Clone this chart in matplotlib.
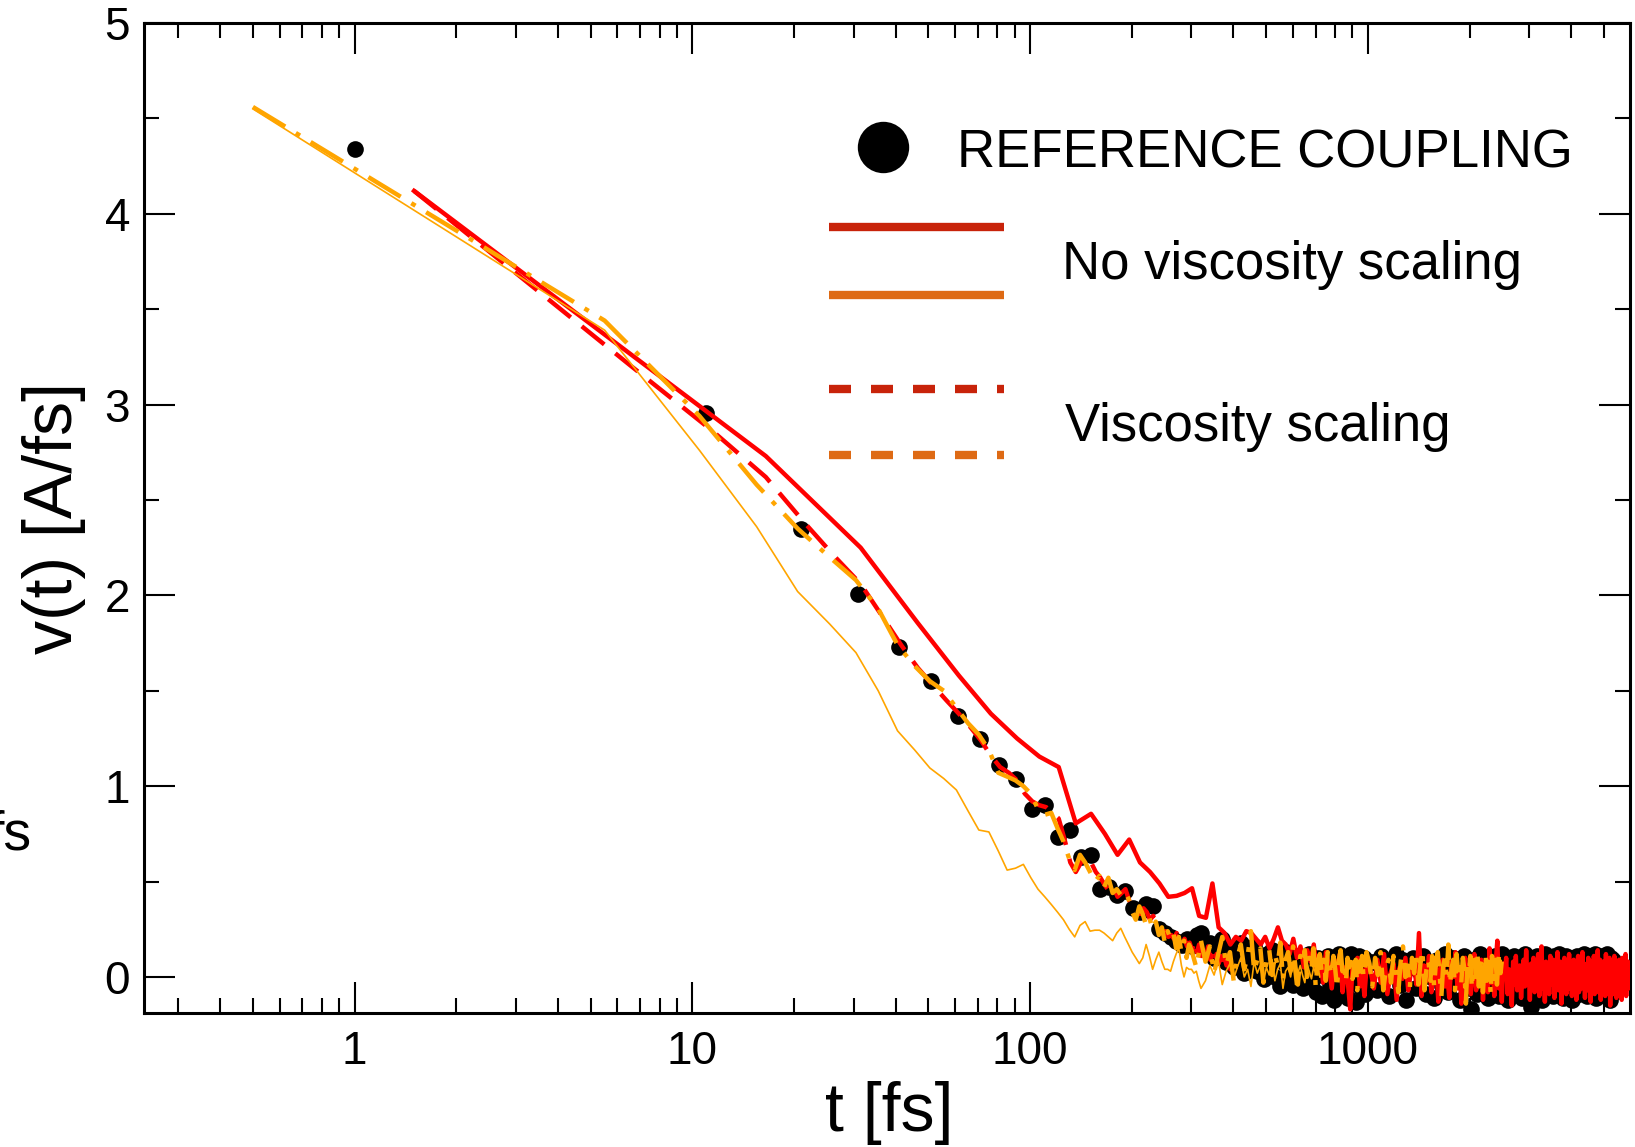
import numpy as np
import matplotlib
matplotlib.use("Agg")
import matplotlib.pyplot as plt
from matplotlib.lines import Line2D
from matplotlib.ticker import FixedLocator, FixedFormatter, LogLocator, NullFormatter, MultipleLocator

plt.rcParams['font.family'] = ['Liberation Sans', 'DejaVu Sans']

# ---------------------------------------------------------------- data
# Reference coupling: every 10 fs from t = 1 fs, then every 30 fs past 1 ps
ref_v_a = [
    4.34, 2.956, 2.35, 2.005, 1.73, 1.55, 1.37, 1.245, 1.11, 1.04, 0.88,
    0.90, 0.735, 0.77, 0.63, 0.64, 0.46, 0.47, 0.43, 0.45, 0.36,
    0.34, 0.38, 0.37, 0.25, 0.23, 0.21, 0.19, 0.17, 0.20, 0.16,
    0.22, 0.23, 0.17, 0.18, 0.10,
    0.12, 0.20, 0.08, 0.15, 0.05, 0.13, 0.18, 0.02, 0.11, 0.07,
    0.16, 0.03, 0.10, -0.01, 0.12, 0.06, 0.14, 0.00, 0.09, -0.05,
    0.08, 0.13, 0.02, 0.10, -0.04, 0.07, 0.11, 0.01, -0.06, 0.09,
    0.04, 0.12, -0.02, 0.06, -0.08, 0.10, 0.03, -0.10, 0.07, 0.00,
    0.11, -0.05, 0.04, -0.12, 0.08, 0.02, 0.12, -0.07, 0.05, -0.01,
    0.10, -0.11, 0.06, 0.12, -0.03, 0.09, -0.13, 0.04, 0.11, -0.06,
    0.02, 0.10, -0.09, 0.07, -0.02,
]
ref_v_b = [
    0.08, -0.07, 0.11, 0.02, -0.10, 0.06, 0.12, -0.04, 0.09, -0.12,
    0.05, 0.10, -0.06, 0.03, 0.11, -0.09, 0.07, 0.00, -0.11, 0.09,
    0.04, -0.05, 0.12, -0.08, 0.06, 0.10, -0.02, 0.08, -0.12, 0.05,
    0.11, -0.06, 0.03, -0.17, 0.09, 0.02, -0.09, 0.12, 0.06, -0.04,
    0.10, -0.11, 0.04, 0.08, -0.07, 0.11, 0.01, -0.10, 0.07, 0.12,
    -0.03, 0.06, -0.12, 0.09, 0.04, -0.08, 0.11, 0.02, -0.05, 0.10,
    0.07, -0.11, 0.05, 0.12, -0.06, 0.08, 0.00, -0.16, 0.10, 0.04,
    -0.09, 0.11, 0.06, -0.04, 0.09, -0.12, 0.03, 0.12, -0.07, 0.07,
    0.10, -0.02, 0.05, -0.10, 0.11, 0.08, -0.06, 0.04, 0.12, -0.09,
    0.06, 0.01, -0.11, 0.09, 0.11, -0.05, 0.07, -0.08, 0.10, 0.03,
    -0.12, 0.08, 0.05, -0.04, 0.11, 0.02, -0.09, 0.10, 0.06, -0.07,
    0.09, 0.12, -0.03, 0.04, -0.10, 0.08, 0.11, -0.06, 0.02, 0.10,
    -0.08, 0.07, 0.12, -0.11, 0.05, 0.09, -0.02, 0.08, -0.09, 0.11,
    0.04, -0.06, 0.10, 0.07, -0.10, 0.03, 0.12, -0.05, 0.08, -0.12,
    0.06, 0.10, -0.03, 0.09, -0.08, 0.05,
]

# Red, no viscosity scaling: every 15 fs from 1.5 fs, every 25 fs past 1 ps
red_solid_v_a = [
    4.12, 2.73, 2.25, 1.855, 1.58, 1.38, 1.25, 1.155, 1.10, 0.805,
    0.855, 0.75, 0.64, 0.72, 0.60, 0.55, 0.49, 0.42, 0.425, 0.44,
    0.465, 0.32, 0.31, 0.49, 0.26, 0.23,
    0.17, 0.21, 0.19, 0.24, 0.23, 0.20, 0.17, 0.21, 0.15, 0.20,
    0.26, 0.19, 0.17, 0.12, 0.20, 0.10, 0.16, 0.05, 0.14, 0.08,
    0.17, 0.02, 0.11, -0.03, 0.13, 0.06, -0.06, 0.09, 0.00, 0.12,
    -0.08, 0.05, -0.02, -0.17, 0.07, 0.01, 0.10, -0.05, 0.04, -0.10,
    0.06,
]
red_solid_v_b = [
    0.04, -0.06, 0.09, -0.03, 0.12, -0.09, 0.02, 0.07, -0.12, 0.05,
    -0.01, 0.10, -0.07, 0.03, 0.08, -0.04, 0.23, -0.10, 0.06, -0.02,
    0.11, -0.08, 0.01, 0.07, -0.13, 0.04, 0.09, -0.05, 0.02, -0.11,
    0.08, 0.00, 0.13, -0.06, 0.05, -0.14, 0.03, 0.10, -0.04, 0.06,
    -0.09, 0.02, 0.12, -0.07, 0.04, -0.02, 0.09, -0.12, 0.06, 0.01,
    -0.08, 0.15, -0.03, 0.05, -0.10, 0.08, 0.19, -0.06, 0.03, -0.13,
    0.07, -0.01, 0.10, -0.09, 0.04, 0.02, -0.15, 0.08, -0.04, 0.11,
    -0.07, 0.03, 0.06, -0.11, 0.01, 0.09, -0.05, 0.14, -0.02, 0.05,
    -0.12, 0.07, 0.00, 0.10, -0.08, 0.04, -0.03, 0.12, -0.10, 0.06,
    0.16, -0.06, 0.02, -0.13, 0.08, -0.01, 0.05, -0.09, 0.11, -0.04,
    0.03, 0.09, -0.11, 0.06, -0.02, 0.13, -0.07, 0.01, 0.08, -0.14,
    0.04, -0.05, 0.10, 0.02, -0.09, 0.07, -0.03, 0.12, -0.06, 0.05,
    -0.10, 0.03, 0.09, -0.04, 0.06, -0.12, 0.02, 0.11, -0.08, 0.04,
    0.00, -0.06, 0.13, -0.03, 0.07, -0.11, 0.05, 0.01, -0.07, 0.10,
    -0.02, 0.06, -0.13, 0.08, 0.03, -0.05, 0.11, -0.09, 0.02, 0.07,
    -0.04, 0.14, -0.08, 0.01, 0.09, -0.12, 0.05, -0.01, 0.08, -0.06,
    0.04, -0.10, 0.12, -0.03, 0.06, -0.07, 0.02, 0.10, -0.15, 0.05,
    -0.02, 0.08, -0.09, 0.03, 0.11, -0.05, 0.06, -0.11, 0.01, 0.07,
    -0.04, 0.09, -0.08, 0.03, 0.05, -0.12, 0.10, -0.02, 0.06, -0.07,
    0.02, 0.12, -0.10, 0.04, -0.03, 0.08, -0.06, 0.05, -0.01, 0.03,
]

# Red, viscosity scaling: every 5 fs from 1.5 fs
red_dash_v = [
    4.12, 3.21, 2.86, 2.62, 2.38, 2.20, 2.06, 1.89, 1.74, 1.62,
    1.53, 1.45, 1.38, 1.31, 1.24, 1.16, 1.10, 1.07, 1.03, 0.96,
    0.92, 0.90, 0.89, 0.86, 0.83, 0.72, 0.60, 0.55, 0.60, 0.63,
    0.60, 0.55, 0.52,
    0.48, 0.45, 0.47, 0.42, 0.44, 0.46, 0.40, 0.37, 0.35, 0.33,
    0.36, 0.34, 0.30, 0.32, 0.27, 0.25, 0.23, 0.24, 0.21, 0.22,
    0.20, 0.23, 0.19, 0.17, 0.20, 0.16, 0.18, 0.14, 0.19, 0.13,
    0.17, 0.11, 0.15, 0.10, 0.16, 0.09, 0.13, 0.08, 0.12, 0.07,
    0.11, 0.05, 0.10, 0.06, 0.09, 0.04, 0.08,
]

# Orange, no viscosity scaling: every 5 fs from 0.5 fs, then every 10 fs
orange_solid_v_a = [
    4.55, 3.39, 2.76, 2.36, 2.02, 1.85, 1.70, 1.50, 1.29, 1.19,
    1.095, 1.04, 0.98, 0.87, 0.77, 0.76, 0.66, 0.56, 0.57, 0.59,
    0.52, 0.46, 0.42, 0.38, 0.34, 0.30, 0.25, 0.21, 0.27, 0.29,
    0.24, 0.245, 0.245, 0.23, 0.21, 0.19, 0.23, 0.255, 0.21, 0.17,
    0.13, 0.10, 0.07, 0.10, 0.17, 0.11, 0.04, 0.09, 0.13, 0.08,
    0.04, 0.04, 0.03, 0.08, 0.12, 0.15, 0.06, 0.00, 0.05, 0.04,
    0.04, 0.02, 0.03, -0.02, -0.06,
]
orange_solid_v_b = [
    -0.02, 0.06, 0.01, 0.09, -0.04, 0.03, 0.07, -0.01, 0.05, 0.10,
    0.00, 0.04, -0.05, 0.08, 0.02, 0.06, -0.03, 0.05, 0.01, 0.09,
    -0.02, 0.04, 0.07, -0.06, 0.03, 0.05, 0.00, 0.08, -0.04, 0.02,
    0.06, 0.01, -0.03, 0.07, 0.03, -0.01, 0.05, 0.02, 0.06, 0.00,
]

# Orange, viscosity scaling: every 5 fs from 0.5 fs, 10 fs from 300 fs, 20 fs past 1 ps
orange_dash_v_a = [
    4.56, 3.44, 2.94, 2.58, 2.35, 2.20, 2.08, 1.93, 1.74, 1.63,
    1.55, 1.50, 1.41, 1.33, 1.27, 1.19, 1.07, 1.05, 1.03, 1.00,
    0.96, 0.88, 0.85, 0.86, 0.78, 0.71, 0.62, 0.56, 0.64, 0.60,
    0.55, 0.50, 0.53, 0.47, 0.52, 0.44, 0.46, 0.43, 0.45, 0.41,
    0.34, 0.30, 0.37, 0.33, 0.27, 0.31, 0.25, 0.29, 0.22, 0.26,
    0.18, 0.24, 0.20, 0.23, 0.15, 0.21, 0.13, 0.19, 0.10, 0.17,
]
orange_dash_v_b = [
    0.14, 0.05, 0.19, 0.08, 0.16, 0.02, 0.12, 0.21, 0.06, 0.13,
    -0.02, 0.10, 0.17, 0.04, 0.11, 0.24, 0.03, 0.09, 0.15, -0.03,
    0.08, 0.14, 0.01, 0.12, 0.06, 0.18, -0.01, 0.09, 0.13, 0.03,
    0.16, 0.05, -0.04, 0.11, 0.07, 0.14, 0.00, 0.10, 0.04, 0.15,
    -0.05, 0.08, 0.12, 0.02, 0.09, -0.02, 0.13, 0.06, 0.01, 0.11,
    0.04, -0.06, 0.09, 0.14, 0.03, 0.07, -0.03, 0.10, 0.05, 0.12,
    -0.01, 0.06, 0.09, -0.07, 0.08, 0.03, 0.11, 0.00, 0.05, 0.13,
]
orange_dash_v_c = [
    0.07, -0.05, 0.10, 0.01, 0.13, -0.07, 0.04, 0.09, -0.03, 0.11,
    0.03, -0.08, 0.08, 0.16, 0.00, 0.06, -0.06, 0.10, 0.02, 0.12,
    -0.04, 0.07, 0.14, -0.07, 0.04, 0.09, -0.02, 0.11, -0.05, 0.08,
    0.13, 0.01, -0.10, 0.06, 0.10, 0.00, 0.17, -0.04, 0.05, 0.09,
    -0.07, 0.12, 0.02, 0.07, -0.03, 0.10, 0.04, -0.14, 0.08, 0.01,
    0.11, -0.06, 0.05, 0.09, 0.00, 0.13, -0.05, 0.07, 0.10, -0.08,
    0.04, 0.12, -0.02, 0.08, 0.02, -0.09, 0.11, 0.05, -0.01, 0.09,
    -0.04, 0.07, 0.13, 0.02, 0.08,
]

x_ticks = [1, 10, 100, 1000]
x_tick_labels = ["1", "10", "100", "1000"]
y_ticks = [0, 1, 2, 3, 4, 5]
y_tick_labels = ["0", "1", "2", "3", "4", "5"]

legend_labels = ["REFERENCE COUPLING", "No viscosity scaling", "Viscosity scaling"]

# ---------------------------------------------------------------- time axes
ref_t = np.concatenate([1 + 10 * np.arange(len(ref_v_a)),
                        1031 + 30 * np.arange(len(ref_v_b))])
ref_v = np.concatenate([ref_v_a, ref_v_b])

red_solid_t = np.concatenate([1.5 + 15 * np.arange(len(red_solid_v_a)),
                              1016.5 + 25 * np.arange(len(red_solid_v_b))])
red_solid_v = np.concatenate([red_solid_v_a, red_solid_v_b])

red_dash_t = 1.5 + 5 * np.arange(len(red_dash_v))

orange_solid_t = np.concatenate([0.5 + 5 * np.arange(len(orange_solid_v_a)),
                                 330.5 + 10 * np.arange(len(orange_solid_v_b))])
orange_solid_v = np.concatenate([orange_solid_v_a, orange_solid_v_b])

orange_dash_t = np.concatenate([0.5 + 5 * np.arange(len(orange_dash_v_a)),
                                300.5 + 10 * np.arange(len(orange_dash_v_b)),
                                1010.5 + 20 * np.arange(len(orange_dash_v_c))])
orange_dash_v = np.concatenate([orange_dash_v_a, orange_dash_v_b, orange_dash_v_c])

# ---------------------------------------------------------------- figure
W, H, DPI = 1635, 1147, 100
fig = plt.figure(figsize=(W / DPI, H / DPI), dpi=DPI)
fig.patch.set_facecolor("white")


def fx(px):
    return px / W


def fy(py):
    return 1 - py / H


ax = fig.add_axes([fx(144), fy(1013), fx(1630) - fx(144), fy(23) - fy(1013)])

RED = "#FF0000"
ORANGE = "#FFA500"

ax.plot(ref_t, ref_v, linestyle="none", marker="o", ms=12, color="black",
        markeredgewidth=0, zorder=2)
ax.plot(red_solid_t, red_solid_v, color=RED, lw=3.2, zorder=3)
ax.plot(red_dash_t, red_dash_v, color=RED, lw=3.2, linestyle=(0, (6.5, 3.2)), zorder=4)
ax.plot(orange_solid_t, orange_solid_v, color=ORANGE, lw=1.2, zorder=5)
ax.plot(orange_dash_t, orange_dash_v, color=ORANGE, lw=3.2,
        linestyle=(0, (8.5, 2.8, 1.1, 2.8)), zorder=6)

ax.set_xscale("log")
ax.set_xlim(0.238, 5970)
ax.set_ylim(-0.189, 5.0)

ax.xaxis.set_major_locator(FixedLocator(x_ticks))
ax.xaxis.set_major_formatter(FixedFormatter(x_tick_labels))
ax.xaxis.set_minor_locator(LogLocator(base=10, subs=np.arange(2, 10)))
ax.xaxis.set_minor_formatter(NullFormatter())
ax.yaxis.set_major_locator(FixedLocator(y_ticks))
ax.yaxis.set_major_formatter(FixedFormatter(y_tick_labels))
ax.yaxis.set_minor_locator(MultipleLocator(0.5))

ax.tick_params(which="major", direction="in", length=22, width=1.5,
               top=True, right=True, labelsize=33, color="black")
ax.tick_params(which="minor", direction="in", length=11, width=1.5,
               top=True, right=True)
ax.tick_params(axis="x", which="major", pad=12)
ax.tick_params(axis="y", which="major", pad=10)
for sp in ax.spines.values():
    sp.set_linewidth(2.2)

# axis titles
fig.text(fx(54.5), fy(518), "v(t) [A/fs]", rotation=90, ha="center", va="center",
         fontsize=49)
fig.text(fx(889), fy(1113), "t [fs]", ha="center", va="center", fontsize=49)

# label of the neighbouring panel, cut by the left edge
fig.text(fx(-12), fy(850), "fs", ha="left", va="baseline", fontsize=40)

# ---------------------------------------------------------------- legend
LEG_RED = "#C8230A"
LEG_ORANGE = "#DE6A14"
fig.add_artist(Line2D([fx(883)], [fy(147)], marker="o", ms=37, color="black",
                      markeredgewidth=0, linestyle="none", transform=fig.transFigure))
fig.text(fx(957), fy(167), legend_labels[0], ha="left", va="baseline", fontsize=38)

for yy, col in [(227, LEG_RED), (295, LEG_ORANGE)]:
    fig.add_artist(Line2D([fx(829), fx(1004)], [fy(yy), fy(yy)], color=col, lw=6,
                          solid_capstyle="butt", transform=fig.transFigure))
fig.text(fx(1062), fy(279), legend_labels[1], ha="left", va="baseline", fontsize=38)

for yy, col in [(389, LEG_RED), (455, LEG_ORANGE)]:
    fig.add_artist(Line2D([fx(829), fx(1004)], [fy(yy), fy(yy)], color=col, lw=6,
                          linestyle=(0, (2.64, 2.4)), dash_capstyle="butt",
                          transform=fig.transFigure))
fig.text(fx(1065), fy(441), legend_labels[2], ha="left", va="baseline", fontsize=38)

fig.savefig("out.png", dpi=DPI, facecolor="white")
